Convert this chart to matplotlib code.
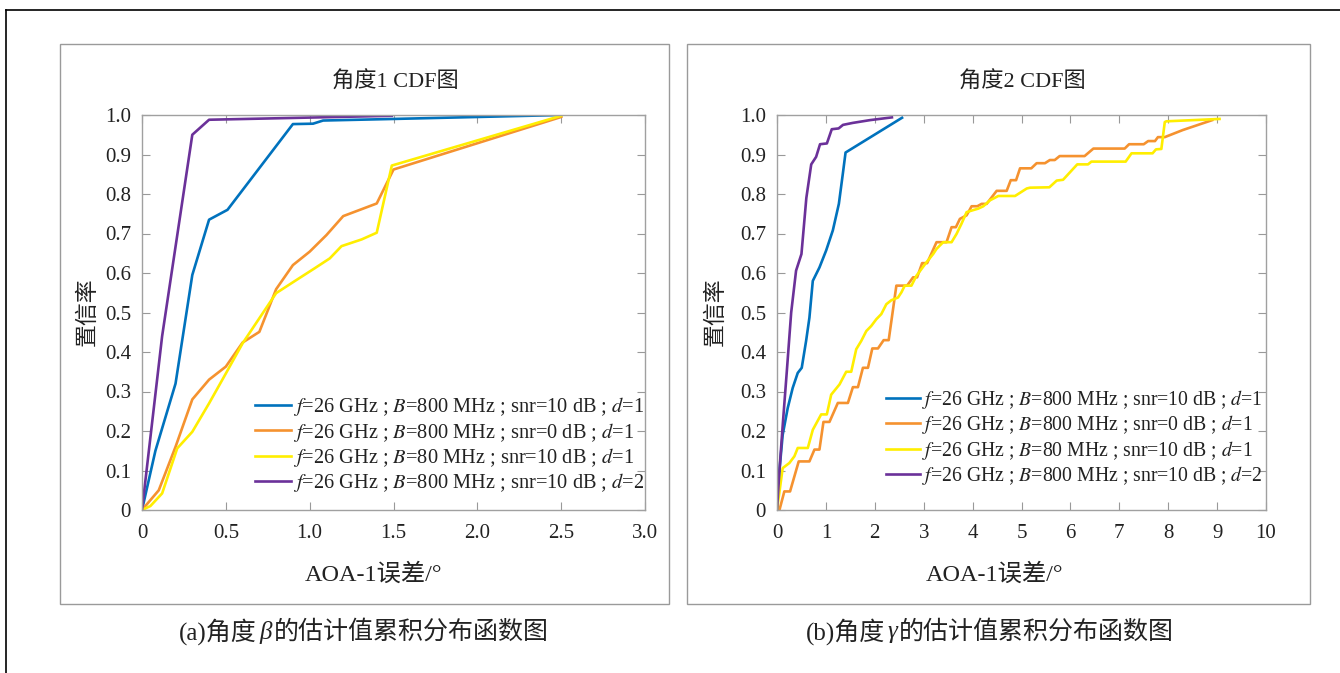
import matplotlib
matplotlib.use("Agg")
import matplotlib.pyplot as plt
from matplotlib.lines import Line2D
from matplotlib.patches import Rectangle

plt.rcParams['font.family'] = ['Liberation Serif', 'Noto Sans CJK SC', 'DejaVu Sans']
plt.rcParams['mathtext.fontset'] = 'stix'

# ---------------- data ----------------
labels = [
    "$f$=26 GHz ; $B$=800 MHz ; snr=10 dB ; $d$=1",
    "$f$=26 GHz ; $B$=800 MHz ; snr=0 dB ; $d$=1",
    "$f$=26 GHz ; $B$=80 MHz ; snr=10 dB ; $d$=1",
    "$f$=26 GHz ; $B$=800 MHz ; snr=10 dB ; $d$=2",
]
colors = ['#0072BD', '#F5922F', '#FFEE00', '#6B3199']

# panel (a): angle beta
a_blue_x = [0, 0.08, 0.2, 0.30, 0.40, 0.51, 0.90, 1.02, 1.08, 1.50, 2.50]
a_blue_y = [0, 0.15, 0.32, 0.595, 0.735, 0.76, 0.977, 0.978, 0.986, 0.99, 1.0]
a_orange_x = [0, 0.1, 0.2, 0.3, 0.4, 0.5, 0.6, 0.7, 0.8, 0.9, 1.0, 1.1, 1.2, 1.4, 1.5, 2.5]
a_orange_y = [0, 0.05, 0.16, 0.28, 0.33, 0.363, 0.424, 0.451, 0.559, 0.62, 0.654, 0.696, 0.744, 0.776, 0.862, 0.995]
a_yellow_x = [0, 0.05, 0.12, 0.21, 0.30, 0.40, 0.49, 0.60, 0.80, 0.92, 1.03, 1.12, 1.19, 1.31, 1.40, 1.49, 2.5]
a_yellow_y = [0, 0.01, 0.042, 0.156, 0.198, 0.27, 0.338, 0.422, 0.549, 0.582, 0.612, 0.637, 0.668, 0.685, 0.702, 0.872, 0.998]
a_purple_x = [0, 0.12, 0.30, 0.40, 1.49]
a_purple_y = [0, 0.44, 0.95, 0.988, 0.998]

# panel (b): angle gamma
b_blue_x = [0, 0.05, 0.116, 0.219, 0.321, 0.424, 0.506, 0.595, 0.663, 0.732, 0.868, 1.005, 1.142, 1.265, 1.347, 1.402, 2.557]
b_blue_y = [0, 0.10, 0.19, 0.258, 0.309, 0.347, 0.36, 0.428, 0.487, 0.58, 0.614, 0.657, 0.708, 0.775, 0.852, 0.905, 0.993]
b_orange_x = [0.05, 0.15, 0.267, 0.444, 0.663, 0.766, 0.868, 0.95, 1.073, 1.244, 1.45, 1.552, 1.655, 1.757, 1.86,
              1.949, 2.065, 2.181, 2.284, 2.441, 2.66, 2.783, 2.865, 2.968, 3.07, 3.262, 3.467, 3.57, 3.658, 3.74,
              3.877, 3.98, 4.096, 4.185, 4.287, 4.492, 4.697, 4.78, 4.889, 4.97, 5.2, 5.31, 5.48, 5.58, 5.68, 5.78,
              6.29, 6.47, 7.11, 7.2, 7.5, 7.59, 7.73, 7.79, 7.93, 8.3, 8.9]
b_orange_y = [0, 0.047, 0.047, 0.123, 0.123, 0.153, 0.153, 0.223, 0.223, 0.271, 0.271, 0.311, 0.311, 0.36, 0.36,
              0.409, 0.409, 0.43, 0.43, 0.568, 0.568, 0.589, 0.589, 0.625, 0.625, 0.678, 0.678, 0.716, 0.716, 0.737,
              0.746, 0.769, 0.769, 0.775, 0.775, 0.808, 0.808, 0.835, 0.835, 0.865, 0.865, 0.878, 0.878, 0.886, 0.886, 0.896,
              0.896, 0.915, 0.915, 0.926, 0.926, 0.934, 0.934, 0.944, 0.944, 0.962, 0.987]
b_yellow_x = [0, 0.116, 0.253, 0.356, 0.424, 0.63, 0.732, 0.903, 1.019, 1.108, 1.279, 1.415, 1.518, 1.62, 1.723,
              1.826, 1.928, 2.031, 2.133, 2.236, 2.338, 2.475, 2.544, 2.612, 2.749, 2.851, 2.954, 3.056, 3.193,
              3.262, 3.398, 3.57, 3.672, 3.774, 3.877, 3.98, 4.116, 4.219, 4.355, 4.526, 4.868, 5.108, 5.176,
              5.57, 5.72, 5.85, 6.14, 6.36, 6.43, 7.13, 7.25, 7.68, 7.75, 7.86, 7.93, 7.96, 9.05]
b_yellow_y = [0, 0.106, 0.119, 0.136, 0.157, 0.157, 0.203, 0.242, 0.242, 0.292, 0.318, 0.35, 0.35, 0.407, 0.428,
              0.453, 0.466, 0.483, 0.496, 0.521, 0.531, 0.538, 0.551, 0.568, 0.568, 0.593, 0.61, 0.627, 0.648,
              0.661, 0.678, 0.678, 0.699, 0.725, 0.754, 0.758, 0.763, 0.769, 0.784, 0.795, 0.795, 0.814, 0.816,
              0.817, 0.834, 0.836, 0.875, 0.875, 0.882, 0.882, 0.903, 0.903, 0.913, 0.914, 0.982, 0.984, 0.99]
b_purple_x = [0, 0.05, 0.12, 0.2, 0.29, 0.39, 0.5, 0.6, 0.7, 0.8, 0.88, 1.02, 1.12, 1.26, 1.35, 1.55, 1.9, 2.35]
b_purple_y = [0, 0.10, 0.22, 0.35, 0.50, 0.606, 0.648, 0.79, 0.875, 0.894, 0.926, 0.928, 0.964, 0.966, 0.975, 0.98, 0.987, 0.994]

a_xticks = [0, 0.5, 1.0, 1.5, 2.0, 2.5, 3.0]
a_xticklabels = ['0', '0.5', '1.0', '1.5', '2.0', '2.5', '3.0']
b_xticks = list(range(0, 11))
b_xticklabels = [str(v) for v in b_xticks]
yticks = [0, 0.1, 0.2, 0.3, 0.4, 0.5, 0.6, 0.7, 0.8, 0.9, 1.0]
yticklabels = ['0', '0.1', '0.2', '0.3', '0.4', '0.5', '0.6', '0.7', '0.8', '0.9', '1.0']

titles = ['角度1 CDF图', '角度2 CDF图']
xlabel = 'AOA-1误差/°'
ylabel = '置信率'
caption_parts = [('(a)角度', 'β', '的估计值累积分布函数图'),
                 ('(b)角度', 'γ', '的估计值累积分布函数图')]

# ---------------- figure ----------------
W, H = 1340, 673
fig = plt.figure(figsize=(W / 100, H / 100), dpi=100)

def fx(px):
    return px / W

def fy(py):
    return 1 - py / H

# outer frame lines
fig.add_artist(Line2D([fx(6), 1.0], [fy(10), fy(10)], color='black', lw=1.2))
fig.add_artist(Line2D([fx(6), fx(6)], [0, fy(10)], color='black', lw=1.2))

# panel boxes
for (x0, x1) in [(60, 669), (687, 1310)]:
    fig.add_artist(Rectangle((fx(x0), fy(604)), fx(x1 - x0), (604 - 44) / H,
                             fill=False, edgecolor='#9a9a9a', lw=1.0))

axes_px = [(142, 645), (777, 1266)]
series = [
    [(a_blue_x, a_blue_y), (a_orange_x, a_orange_y), (a_yellow_x, a_yellow_y), (a_purple_x, a_purple_y)],
    [(b_blue_x, b_blue_y), (b_orange_x, b_orange_y), (b_yellow_x, b_yellow_y), (b_purple_x, b_purple_y)],
]
xlims = [(0, 3.0), (0, 10)]
xt = [(a_xticks, a_xticklabels), (b_xticks, b_xticklabels)]
leg_anchor = [(0.225, 0.291), (0.222, 0.309)]
leg_size = [14.7, 14.2]
title_x = [395, 1022]
xlabel_x = [374, 995]
caption_x = [364, 990]
ylabel_x = [88, 716]

caption_texts = []
for i in range(2):
    x0, x1 = axes_px[i]
    ax = fig.add_axes([fx(x0), fy(510), (x1 - x0) / W, 395 / H])
    for (xs, ys), c, lab in zip(series[i], colors, labels):
        ax.plot(xs, ys, color=c, lw=1.9, label=lab, solid_joinstyle='round')
    ax.set_xlim(*xlims[i])
    ax.set_ylim(0, 1.0)
    ax.set_xticks(xt[i][0])
    ax.set_xticklabels(xt[i][1])
    ax.set_yticks(yticks)
    ax.set_yticklabels(yticklabels)
    ax.tick_params(direction='in', length=6, width=0.8, color='#999999',
                   top=True, right=True, labelsize=15, labelcolor='#222222')
    ax.tick_params(axis='x', pad=10)
    ax.tick_params(axis='y', pad=8)
    for s in ax.spines.values():
        s.set_color('#a0a0a0')
        s.set_linewidth(1.0)
    leg = ax.legend(loc='upper left', bbox_to_anchor=leg_anchor[i], frameon=False,
                    fontsize=leg_size[i], handlelength=1.75, handletextpad=0.1,
                    borderpad=0, borderaxespad=0, labelspacing=0.12)
    for t in leg.get_texts():
        t.set_color('#222222')
    fig.text(fx(title_x[i]), fy(82), titles[i], ha='center', va='center', fontsize=16, color='#222222')
    fig.text(fx(xlabel_x[i]), fy(575), xlabel, ha='center', va='center', fontsize=17.5, color='#222222')
    fig.text(fx(ylabel_x[i]), fy(312), ylabel, ha='center', va='center', fontsize=16.5,
             rotation=90, color='#222222')
    p1, p2, p3 = caption_parts[i]
    t1 = fig.text(0, fy(632), p1, ha='left', va='center', fontsize=18, color='#222222')
    t2 = fig.text(0, fy(632), p2, ha='left', va='center', fontsize=18, color='#222222', style='italic')
    t3 = fig.text(0, fy(632), p3, ha='left', va='center', fontsize=18, color='#222222')
    caption_texts.append((caption_x[i], [t1, t2, t3]))

# place caption pieces next to each other, centred on caption_x
fig.canvas.draw()
renderer = fig.canvas.get_renderer()
for cx, parts in caption_texts:
    widths = [p.get_window_extent(renderer).width for p in parts]
    gap = 2
    total = sum(widths) + gap * (len(parts) - 1)
    x = cx - total / 2
    for p, w in zip(parts, widths):
        p.set_x(fx(x))
        x += w + gap

fig.savefig('out.png', dpi=100)
